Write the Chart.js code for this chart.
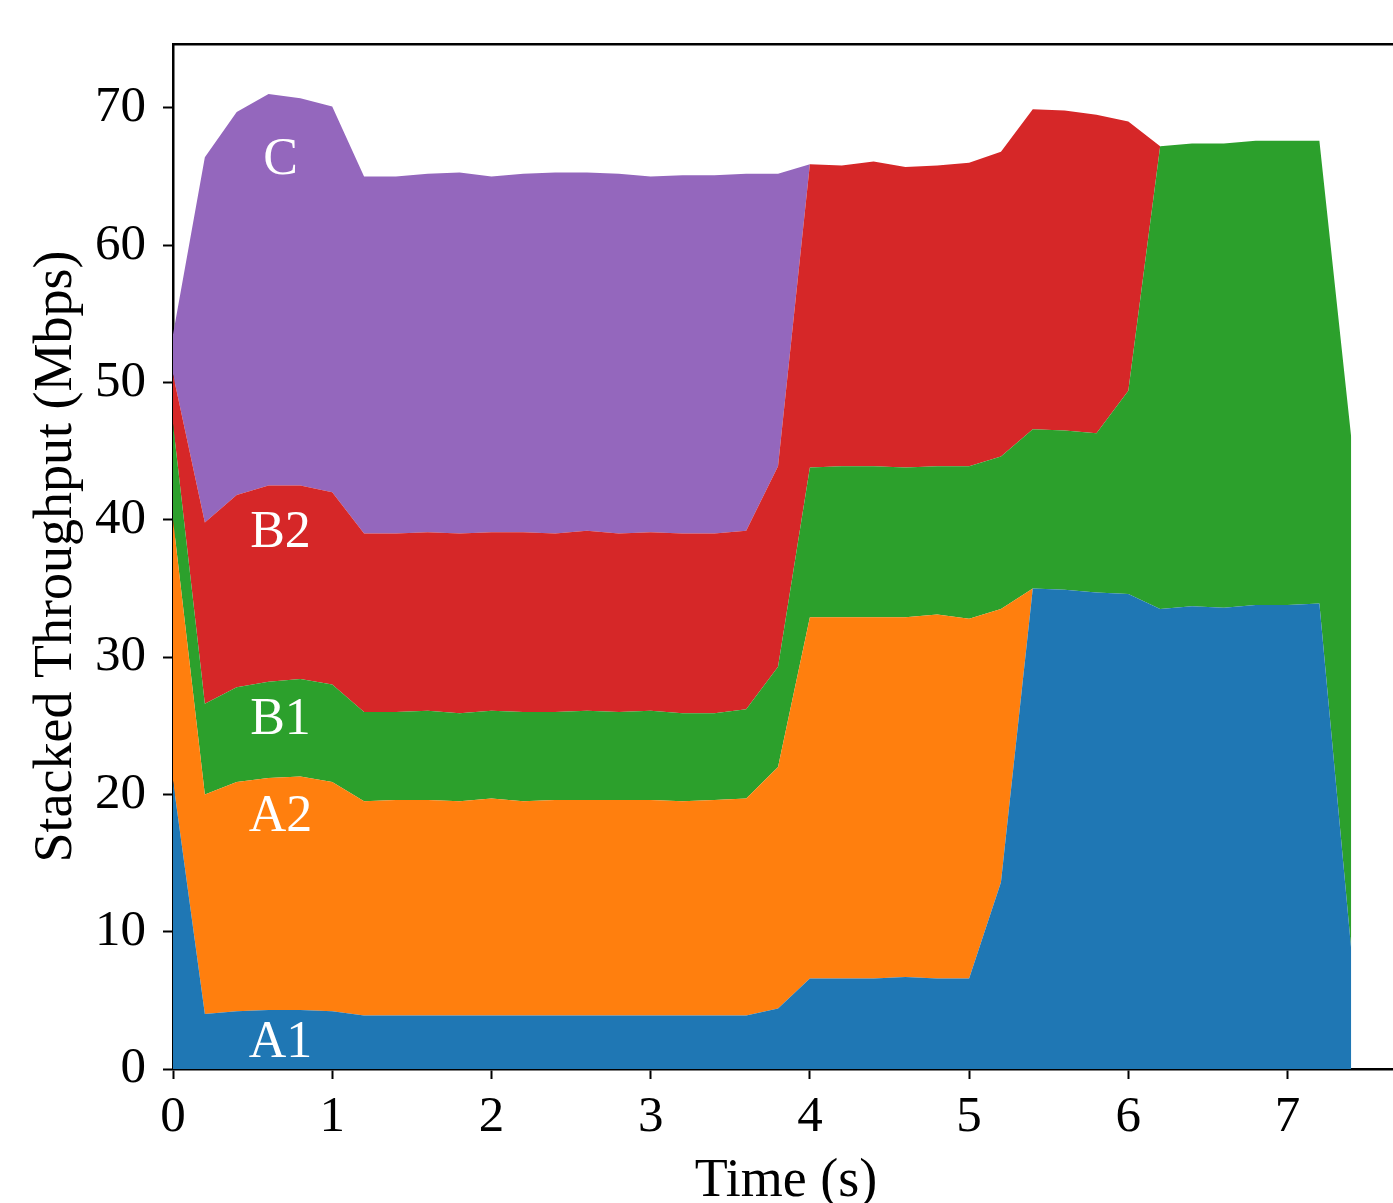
<!DOCTYPE html>
<html>
<head>
    <title>Stacked Throughput</title>
    <script src="https://cdn.jsdelivr.net/npm/chart.js"></script>
    <style>
        html, body {
            margin: 0;
            padding: 0;
            background: #ffffff;
            overflow: hidden;
        }

        .chart-box {
            position: relative;
            width: 1400px;
            height: 1203px;
        }
    </style>
</head>
<body>
    <div class="chart-box">
        <canvas id="throughputChart" width="1400" height="1203"></canvas>
    </div>

    <script>
        // sample times (s), one every 0.2 s
        const times = [0, 0.2, 0.4, 0.6, 0.8, 1.0, 1.2, 1.4, 1.6, 1.8,
                       2.0, 2.2, 2.4, 2.6, 2.8, 3.0, 3.2, 3.4, 3.6, 3.8,
                       4.0, 4.2, 4.4, 4.6, 4.8, 5.0, 5.2, 5.4, 5.6, 5.8,
                       6.0, 6.2, 6.4, 6.6, 6.8, 7.0, 7.2, 7.4];

        // per-flow throughput (Mbps), stacked in this order
        const flowA1 = [21.0, 4.0, 4.2, 4.3, 4.3, 4.2, 3.9, 3.9, 3.9, 3.9,
                        3.9, 3.9, 3.9, 3.9, 3.9, 3.9, 3.9, 3.9, 3.9, 4.4,
                        6.6, 6.6, 6.6, 6.7, 6.6, 6.6, 13.6, 35.0, 34.9, 34.7,
                        34.6, 33.5, 33.7, 33.6, 33.8, 33.8, 33.9, 8.7];
        const flowA2 = [19.0, 16.0, 16.7, 16.9, 17.0, 16.7, 15.6, 15.7, 15.7, 15.6,
                        15.8, 15.6, 15.7, 15.7, 15.7, 15.7, 15.6, 15.7, 15.8, 17.6,
                        26.3, 26.3, 26.3, 26.2, 26.5, 26.2, 19.9, 0, 0, 0,
                        0, 0, 0, 0, 0, 0, 0, 0];
        const flowB1 = [7.0, 6.6, 6.9, 7.0, 7.1, 7.1, 6.5, 6.4, 6.5, 6.4,
                        6.4, 6.5, 6.4, 6.5, 6.4, 6.5, 6.4, 6.3, 6.5, 7.3,
                        10.9, 11.0, 11.0, 10.9, 10.8, 11.1, 11.1, 11.6, 11.6, 11.6,
                        14.8, 33.7, 33.7, 33.8, 33.8, 33.8, 33.7, 37.3];
        const flowB2 = [3.6, 13.2, 14.0, 14.3, 14.1, 14.0, 13.0, 13.0, 13.0, 13.1,
                        13.0, 13.1, 13.0, 13.1, 13.0, 13.0, 13.1, 13.1, 13.0, 14.6,
                        22.1, 21.9, 22.2, 21.9, 21.9, 22.1, 22.2, 23.3, 23.3, 23.2,
                        19.6, 0, 0, 0, 0, 0, 0, 0];
        const flowC = [2.9, 26.6, 27.9, 28.5, 28.2, 28.1, 26.0, 26.0, 26.1, 26.3,
                       25.9, 26.1, 26.3, 26.1, 26.2, 25.9, 26.1, 26.1, 26.0, 21.3,
                       0, 0, 0, 0, 0, 0, 0, 0, 0, 0,
                       0, 0, 0, 0, 0, 0, 0, 0];

        const flowNames = ['A1', 'A2', 'B1', 'B2', 'C'];
        const flowData = [flowA1, flowA2, flowB1, flowB2, flowC];
        const flowColors = ['#1f77b4', '#ff7f0e', '#2ca02c', '#d62728', '#9467bd'];

        const xTicks = [0, 1, 2, 3, 4, 5, 6, 7];
        const yTicks = [0, 10, 20, 30, 40, 50, 60, 70];

        // where the white name of each band sits (data coords, text baseline)
        const labelX = [0.675, 0.675, 0.675, 0.675, 0.675];
        const labelY = [0.9, 17.3, 24.4, 38.0, 65.2];

        const serif = '"Liberation Serif", "Times New Roman", serif';

        const bandLabels = {
            id: 'bandLabels',
            afterDatasetsDraw(chart) {
                const { ctx, scales: { x, y } } = chart;
                ctx.save();
                ctx.fillStyle = '#ffffff';
                ctx.font = '52px ' + serif;
                ctx.textAlign = 'center';
                ctx.textBaseline = 'alphabetic';
                flowNames.forEach((name, i) => {
                    ctx.fillText(name, x.getPixelForValue(labelX[i]), y.getPixelForValue(labelY[i]));
                });
                ctx.restore();
            }
        };

        function buildDatasets() {
            return flowData.map((values, i) => ({
                label: flowNames[i],
                data: values.map((v, j) => ({ x: times[j], y: v })),
                backgroundColor: flowColors[i],
                borderColor: flowColors[i],
                borderWidth: 0,
                pointRadius: 0,
                tension: 0,
                fill: i === 0 ? 'origin' : '-1'
            }));
        }

        const ctx = document.getElementById('throughputChart').getContext('2d');
        new Chart(ctx, {
            type: 'line',
            data: { datasets: buildDatasets() },
            options: {
                responsive: false,
                animation: false,
                devicePixelRatio: 1,
                layout: { padding: { top: 44, left: 0, right: 1, bottom: 0 } },
                plugins: {
                    legend: { display: false },
                    tooltip: { enabled: false }
                },
                scales: {
                    x: {
                        type: 'linear',
                        min: 0,
                        max: 7.7,
                        afterFit(scale) {
                            scale.height = 134;
                            scale.paddingLeft = 0;
                            scale.paddingRight = 0;
                        },
                        afterBuildTicks(scale) { scale.ticks = xTicks.map(v => ({ value: v })); },
                        border: { display: true, color: '#000', width: 2.5 },
                        grid: {
                            drawOnChartArea: false,
                            tickLength: 10,
                            tickWidth: 2,
                            tickColor: '#000'
                        },
                        ticks: {
                            color: '#000',
                            padding: 8,
                            maxRotation: 0,
                            font: { family: serif, size: 51 }
                        },
                        title: {
                            display: true,
                            text: 'Time (s)',
                            color: '#000',
                            padding: { top: 0, bottom: 0 },
                            font: { family: serif, size: 54, lineHeight: 0.8 }
                        }
                    },
                    y: {
                        stacked: true,
                        min: 0,
                        max: 74.65,
                        afterFit(scale) {
                            scale.width = 173;
                            scale.paddingTop = 0;
                            scale.paddingBottom = 0;
                        },
                        afterBuildTicks(scale) { scale.ticks = yTicks.map(v => ({ value: v })); },
                        border: { display: true, color: '#000', width: 2.5 },
                        grid: {
                            drawOnChartArea: false,
                            tickLength: 10,
                            tickWidth: 2,
                            tickColor: '#000'
                        },
                        ticks: {
                            color: '#000',
                            padding: 17,
                            font: { family: serif, size: 51 }
                        },
                        title: {
                            display: true,
                            text: 'Stacked Throughput (Mbps)',
                            color: '#000',
                            padding: { top: 30, bottom: 0 },
                            font: { family: serif, size: 54, lineHeight: 1 }
                        }
                    },
                    top: {
                        type: 'linear',
                        position: 'top',
                        min: 0,
                        max: 7.7,
                        afterFit(scale) {
                            scale.height = 0;
                            scale.paddingLeft = 0;
                            scale.paddingRight = 0;
                        },
                        border: { display: true, color: '#000', width: 2.5 },
                        grid: { display: false },
                        ticks: { display: false }
                    }
                }
            },
            plugins: [bandLabels]
        });
    </script>
</body>
</html>
